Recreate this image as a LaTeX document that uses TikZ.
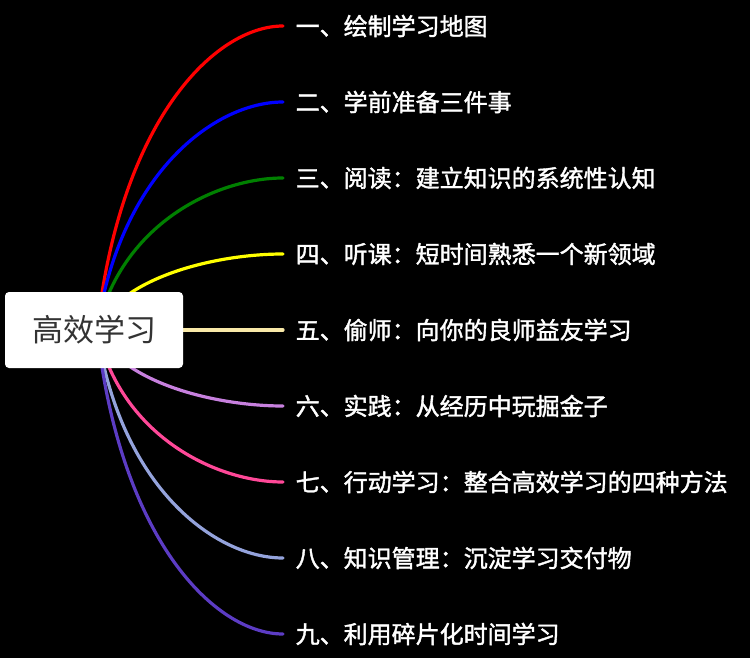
\documentclass[tikz,border=0pt]{standalone}
\usepackage{tikz}
\usepackage{xcolor}
\usepackage{fontspec}
\usetikzlibrary{positioning, backgrounds, calc}
\newfontfamily\cjk{Noto Sans CJK SC}
\newfontfamily\cjkmed{Noto Sans CJK SC}[FakeBold=1.6]
\definecolor{mapRed}{RGB}{255,0,0}
\definecolor{mapBlue}{RGB}{0,0,255}
\definecolor{mapGreen}{RGB}{0,128,0}
\definecolor{mapYellow}{RGB}{255,255,0}
\definecolor{mapCream}{RGB}{248,232,168}
\definecolor{mapViolet}{RGB}{199,128,222}
\definecolor{mapPink}{RGB}{255,72,152}
\definecolor{mapSteel}{RGB}{148,163,220}
\definecolor{mapIndigo}{RGB}{92,60,196}
\definecolor{rootText}{RGB}{51,51,51}

\begin{document}
\begin{tikzpicture}[x=1pt, y=-1pt,
    root/.style={fill=white, rounded corners=4pt, minimum width=178pt,
                 minimum height=76pt, inner sep=0pt, text=rootText,
                 font=\cjk\fontsize{31}{36}\selectfont},
    leaf/.style={anchor=west, inner xsep=12.5pt, inner ysep=0pt, text=white,
                 font=\cjkmed\fontsize{24}{28}\selectfont},
    branch/.style={line width=3.2pt, line cap=round}
  ]
    \useasboundingbox (0,0) rectangle (750,658);
    \begin{pgfonlayer}{background}
      \fill[black] (0,0) rectangle (750,658);
    \end{pgfonlayer}

    \node[root] (root) at (94,330) {高效学习};

    \foreach \i/\y/\c/\t in {
        1/26/mapRed/{一、绘制学习地图},
        2/102/mapBlue/{二、学前准备三件事},
        3/178/mapGreen/{三、阅读：建立知识的系统性认知},
        4/254/mapYellow/{四、听课：短时间熟悉一个新领域},
        5/330/mapCream/{五、偷师：向你的良师益友学习},
        6/406/mapViolet/{六、实践：从经历中玩掘金子},
        7/482/mapPink/{七、行动学习：整合高效学习的四种方法},
        8/558/mapSteel/{八、知识管理：沉淀学习交付物},
        9/634/mapIndigo/{九、利用碎片化时间学习}} {
      \node[leaf] (l\i) at (283,\y) {\t};
      \pgfmathsetmacro{\yc}{330+0.69*(\y-330)}
      \begin{pgfonlayer}{background}
        \draw[branch, \c] ($(root.center)+(3,0)$) .. controls (120,\yc) and (215,\y) .. (l\i.west);
      \end{pgfonlayer}
    }
  \end{tikzpicture}
\end{document}
